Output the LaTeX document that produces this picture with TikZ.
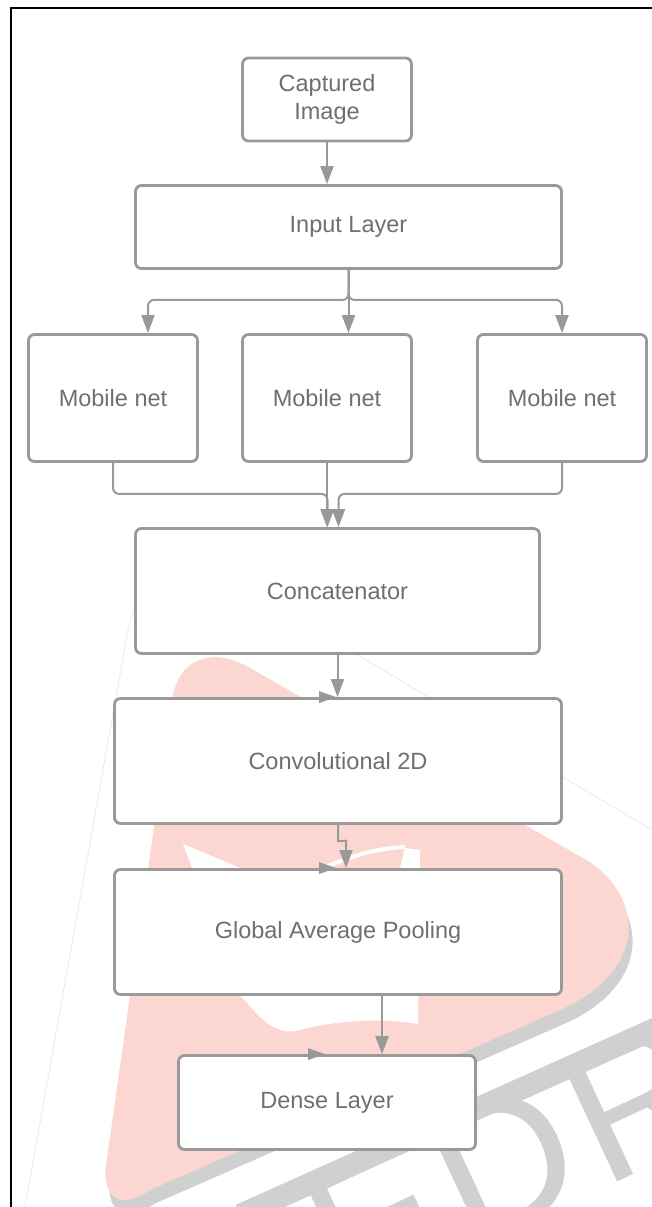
\documentclass[tikz,border=0pt]{standalone}
\usepackage{fontspec}
\setmainfont{Liberation Sans}
\usetikzlibrary{arrows.meta,calc}
\definecolor{lc}{HTML}{999999}
\definecolor{tc}{HTML}{6F6F6F}
\definecolor{wmpink}{RGB}{252,215,209}
\definecolor{wmgrey}{RGB}{208,208,208}
\definecolor{wmfaint}{RGB}{236,236,236}
\begin{document}
\begin{tikzpicture}[x=1pt,y=-1pt,
  box/.style={draw=lc,line width=2.8pt,rounded corners=6pt,fill=white,text=tc,
    font=\fontsize{23.5}{28}\selectfont,align=center,inner sep=0pt},
  arr/.style={draw=lc,line width=2pt,-{Triangle[length=18pt,width=13pt]},rounded corners=6pt},
  stray/.style={fill=lc},
  wmtext/.style={text=wmgrey,font=\fontsize{190}{190}\selectfont,inner sep=0pt}]
\useasboundingbox (0,0) rectangle (652,1207);
% ---------- watermark ----------
\begin{scope}
\clip (0,0) rectangle (652,1207);
\draw[wmfaint,line width=1pt] (25,1207) -- (128,630) .. controls (140,570) and (190,555) .. (240,585) -- (652,830);
\fill[wmgrey] ([shift={(4,14)}]172,700) -- ([shift={(4,14)}]106,1165) .. controls ([shift={(4,14)}]102,1195) and ([shift={(4,14)}]118,1212) .. ([shift={(4,14)}]150,1190) -- ([shift={(4,14)}]560,1010) .. controls ([shift={(4,14)}]640,975) and ([shift={(4,14)}]650,905) .. ([shift={(4,14)}]590,862) -- cycle;
\draw[wmgrey,line width=22pt] (670,1022) -- (240,1215);
\fill[wmpink] (172,700) -- (106,1165) .. controls (102,1195) and (118,1212) .. (150,1190) -- (560,1010) .. controls (640,975) and (650,905) .. (590,862) -- (250,668) .. controls (210,645) and (178,660) .. (172,700) -- cycle;
\fill[white] (183,844) -- (240,868) -- (400,868) -- (405,848) -- (420,850) -- (418,1024) .. controls (370,1016) and (320,1024) .. (295,1031) .. controls (278,1034) and (262,1022) .. (245,1000) -- (240,996) -- cycle;
\draw[white,line width=4pt] (320,870) .. controls (350,855) and (380,848) .. (405,847);
\node[wmtext,rotate=25,anchor=base east] (wm) at (728,1130) {E\hspace{10pt}D\hspace{10pt}R};
\end{scope}
% ---------- frame ----------
\draw[line width=2.2pt,black] (11,1207) -- (11,8) -- (652,8);
% ---------- boxes ----------
\node[box,minimum width=169pt,minimum height=83pt] (cap) at (327,99.5) {Captured\\Image};
\node[box,minimum width=426pt,minimum height=83pt] (inp) at (348.5,227) {Input Layer};
\node[box,minimum width=169pt,minimum height=127pt] (m1) at (113,398) {Mobile net};
\node[box,minimum width=169pt,minimum height=127pt] (m2) at (327,398) {Mobile net};
\node[box,minimum width=169pt,minimum height=127pt] (m3) at (562,398) {Mobile net};
\node[box,minimum width=404pt,minimum height=125pt] (conc) at (337.5,591) {Concatenator};
\node[box,minimum width=447pt,minimum height=125pt] (conv) at (338,761) {Convolutional 2D};
\node[box,minimum width=447pt,minimum height=125pt] (gap) at (338,932) {Global Average Pooling};
\node[box,minimum width=297pt,minimum height=94pt] (dense) at (327,1102.5) {Dense Layer};
% ---------- connectors ----------
\draw[arr] (cap.south) -- (cap.south |- inp.north);
\draw[arr] (inp.south) -- ++(0,30) -| ([xshift=35pt]m1.north);
\draw[arr] (inp.south) -- (inp.south |- m2.north);
\draw[arr] (inp.south) -- ++(0,30) -| (m3.north);
\draw[arr] (m1.south) -- ++(0,31) -| ([xshift=-10pt]conc.north);
\draw[arr] (m2.south) -- (m2.south |- conc.north);
\draw[arr] (m3.south) -- ++(0,31) -| ([xshift=1pt]conc.north);
\draw[arr] (conc.south) -- (conc.south |- conv.north);
\draw[arr] (conv.south) -- ++(0,10) .. controls +(0,7) and +(0,-7) .. ++(8,12) -- ([xshift=8pt]gap.north);
\draw[arr] ([xshift=44pt]gap.south) -- ([xshift=44pt]gap.south |- dense.north);
% ---------- stray arrowheads on top edges ----------
\fill[stray] ([xshift=-2pt]conv.north) -- ++(-17,-6) -- ++(0,12) -- cycle;
\fill[stray] ([xshift=-2pt]gap.north) -- ++(-17,-6) -- ++(0,12) -- cycle;
\fill[stray] ([xshift=-2pt]dense.north) -- ++(-17,-6) -- ++(0,12) -- cycle;
\end{tikzpicture}
\end{document}
